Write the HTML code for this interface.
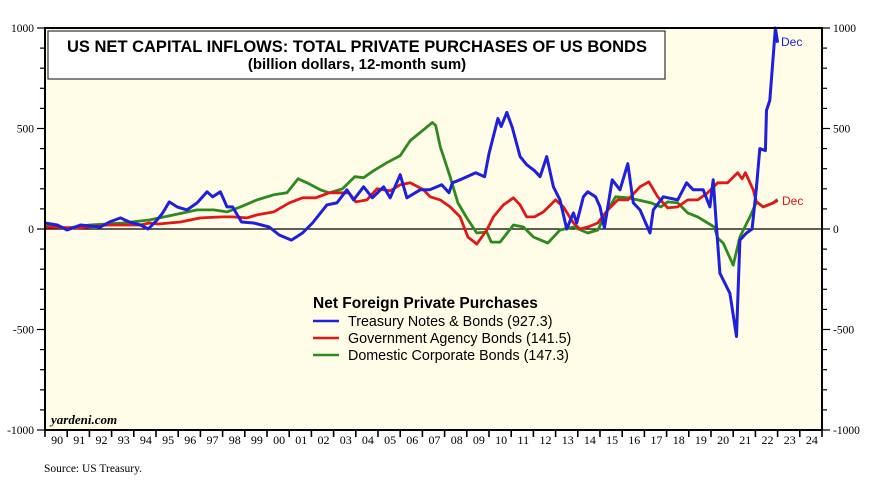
<!DOCTYPE html>
<html><head><meta charset="utf-8"><style>
body{margin:0;background:#fff;}
svg{display:block;font-family:"Liberation Sans",sans-serif;}
</style></head><body>
<svg id="chart" width="870" height="486" xmlns="http://www.w3.org/2000/svg">
<rect x="45" y="28" width="777" height="402" fill="#fffde7"/>
<g id="grid"></g>
<g id="series"></g>
<rect x="45" y="28" width="777" height="402" fill="none" stroke="#000" stroke-width="2"/>
<rect x="48" y="31" width="617" height="48" fill="#fff" stroke="#333" stroke-width="1.2"/>
<text x="357" y="52" text-anchor="middle" font-size="16.5" font-weight="bold">US NET CAPITAL INFLOWS: TOTAL PRIVATE PURCHASES OF US BONDS</text>
<text x="357" y="69" text-anchor="middle" font-size="15" font-weight="bold">(billion dollars, 12-month sum)</text>
<g>
<text x="313" y="308" font-size="15.5" font-weight="bold">Net Foreign Private Purchases</text>
<line x1="313" y1="321" x2="339" y2="321" stroke="#1f1fdc" stroke-width="2.5"/>
<text x="348" y="326" font-size="14.3">Treasury Notes &amp; Bonds (927.3)</text>
<line x1="313" y1="338" x2="339" y2="338" stroke="#e01818" stroke-width="2.5"/>
<text x="348" y="343" font-size="14.3">Government Agency Bonds (141.5)</text>
<line x1="313" y1="355" x2="339" y2="355" stroke="#2e8a1e" stroke-width="2.5"/>
<text x="348" y="360" font-size="14.3">Domestic Corporate Bonds (147.3)</text>
</g>
<text x="51" y="424" font-size="13" font-weight="bold" font-style="italic" font-family="Liberation Serif,serif">yardeni.com</text>
<text x="44" y="472" font-size="11.5" font-family="Liberation Serif,serif">Source: US Treasury.</text>
<text x="781" y="46" font-size="12" fill="#1f1fdc">Dec</text>
<text x="782" y="205" font-size="12" fill="#e01818">Dec</text>
</svg>
<script>
const yTicks=[-1000,-500,0,500,1000];
const years=["90","91","92","93","94","95","96","97","98","99","00","01","02","03","04","05","06","07","08","09","10","11","12","13","14","15","16","17","18","19","20","21","22","23","24"];
const treasuryT=[1990,1990.55,1991,1991.6,1992.5,1992.9,1993.4,1993.8,1994.3,1994.65,1995.05,1995.3,1995.6,1995.95,1996.4,1996.85,1997.3,1997.55,1997.9,1998.2,1998.45,1998.85,1999.4,2000.1,2000.55,2001.1,2001.6,2002.05,2002.7,2003.15,2003.6,2003.9,2004.35,2004.75,2005.25,2005.55,2006,2006.3,2006.9,2007.33,2007.87,2008.2,2008.35,2008.8,2009.4,2009.8,2010,2010.4,2010.55,2010.8,2011.05,2011.4,2011.7,2012.05,2012.3,2012.6,2012.9,2013.2,2013.5,2013.8,2013.95,2014.25,2014.45,2014.8,2015,2015.2,2015.55,2015.9,2016.25,2016.5,2016.8,2017.25,2017.4,2017.85,2018.5,2018.9,2019.2,2019.65,2019.95,2020.1,2020.25,2020.4,2020.85,2021.15,2021.3,2021.6,2021.85,2022.05,2022.2,2022.45,2022.5,2022.65,2022.9,2023];
const treasuryV=[30,20,-5,20,10,35,55,35,20,0,45,80,135,110,95,130,185,160,185,110,110,35,30,10,-30,-55,-20,30,120,130,195,145,210,155,210,155,270,155,195,195,220,180,230,250,280,260,375,550,510,580,505,360,320,290,260,360,210,145,0,80,30,160,185,160,110,5,245,195,325,130,95,-20,95,160,145,230,195,195,110,245,10,-220,-320,-535,-55,-20,0,210,400,390,590,640,1000,927];
const agencyT=[1990,1991.5,1992.8,1994.3,1994.7,1995.1,1996.1,1997,1998,1998.45,1999.1,1999.55,2000.3,2001,2001.6,2002.2,2002.8,2003.3,2003.7,2004,2004.5,2004.95,2005.55,2006,2006.45,2007.05,2007.35,2007.8,2008.25,2008.7,2009.05,2009.45,2009.9,2010.2,2010.65,2011.1,2011.4,2011.7,2012.05,2012.45,2013,2013.35,2013.8,2014.1,2014.45,2014.9,2015.35,2015.8,2016.25,2016.8,2017.2,2017.6,2018.05,2018.5,2018.95,2019.4,2019.85,2020.3,2020.75,2021.2,2021.4,2021.55,2021.9,2022.05,2022.35,2022.8,2023];
const agencyV=[10,5,20,20,30,25,35,55,60,60,55,70,85,130,155,155,180,180,180,135,145,200,190,220,230,195,160,145,110,60,-40,-75,-5,60,120,155,120,60,60,85,145,110,30,0,10,30,95,145,145,210,235,160,105,110,145,145,180,230,230,280,250,280,195,135,110,130,141.5];
const corpT=[1990,1991,1992,1993.5,1994.7,1995.8,1996.85,1997.6,1998.2,1998.8,1999.55,2000.3,2000.9,2001.4,2001.8,2002.4,2002.8,2003.4,2003.95,2004.35,2004.8,2005.4,2006,2006.45,2006.9,2007.45,2007.6,2007.8,2008.25,2008.6,2009,2009.45,2009.9,2010.1,2010.5,2011.1,2011.55,2012,2012.65,2013.2,2013.8,2014.45,2014.9,2015.35,2015.7,2016.25,2016.7,2017.3,2017.75,2018.05,2018.5,2018.95,2019.4,2019.85,2020.15,2020.3,2020.55,2021,2021.3,2021.75,2022.05,2022.35,2022.8,2023];
const corpV=[15,5,20,30,45,70,95,95,85,110,145,170,180,250,230,195,180,200,260,255,290,330,365,440,480,530,515,410,260,130,55,-20,-15,-65,-65,20,10,-40,-70,-5,10,-20,-5,95,160,155,145,130,110,135,130,80,60,30,10,-45,-70,-180,-40,60,135,110,130,147.3];

const L=45,R=822,T=28,B=430;
const xs=t=>L+(t-1990)*(R-L)/35;
const ys=v=>T+(1000-v)*(B-T)/2000;
const NS="http://www.w3.org/2000/svg";
const grid=document.getElementById('grid'),ser=document.getElementById('series'),svg=document.getElementById('chart');
function mk(tag,at,parent){const e=document.createElementNS(NS,tag);for(const k in at)e.setAttribute(k,at[k]);parent.appendChild(e);return e;}
for(let v=-1000;v<=1000;v+=100){
  const y=ys(v);const major=v%500===0;
  const a=mk('line',{x1:L-(major?8:5),x2:L,y1:y,y2:y,stroke:'#000','stroke-width':1.2},grid);
  
  
  const b=mk('line',{x1:R,x2:R+(major?8:5),y1:y,y2:y,stroke:'#000','stroke-width':1.2},grid);
  
  
}
yTicks.forEach(v=>{
  const t1=mk('text',{x:L-11,y:ys(v)+4,'text-anchor':'end','font-size':11.5,'font-family':'Liberation Serif,serif'},svg);
  t1.textContent=v;
  
  
  const t2=mk('text',{x:R+11,y:ys(v)+4,'font-size':11.5,'font-family':'Liberation Serif,serif'},svg);
  t2.textContent=v;
  
  
});
const zl=mk('line',{x1:L,x2:R,y1:ys(0),y2:ys(0),stroke:'#000','stroke-width':1.2},grid);


years.forEach((lab,i)=>{
  const x=xs(1990+i);
  const tk=mk('line',{x1:x,x2:x,y1:B,y2:B+7,stroke:'#000','stroke-width':1.6},svg);
  
  
  const tx=mk('text',{x:x+(R-L)/70+1,y:B+14,'text-anchor':'middle','font-size':12,'font-family':'Liberation Serif,serif'},svg);
  tx.textContent=lab;
  
  
});
const xt=mk('line',{x1:R,x2:R,y1:B,y2:B+7,stroke:'#000','stroke-width':1.6},svg);


function line(T_,V_,col,name,w){
  const d=T_.map((t,i)=>(i?'L':'M')+xs(t).toFixed(1)+','+ys(V_[i]).toFixed(1)).join('');
  const p=mk('path',{d:d,fill:'none',stroke:col,'stroke-width':w,'stroke-linejoin':'round'},ser);
  
  
}
line(corpT,corpV,'#2e8a1e','corporate-bonds-line',2.8);
line(agencyT,agencyV,'#e01818','agency-bonds-line',2.8);
line(treasuryT,treasuryV,'#1f1fdc','treasury-bonds-line',3);
</script>
</body></html>
